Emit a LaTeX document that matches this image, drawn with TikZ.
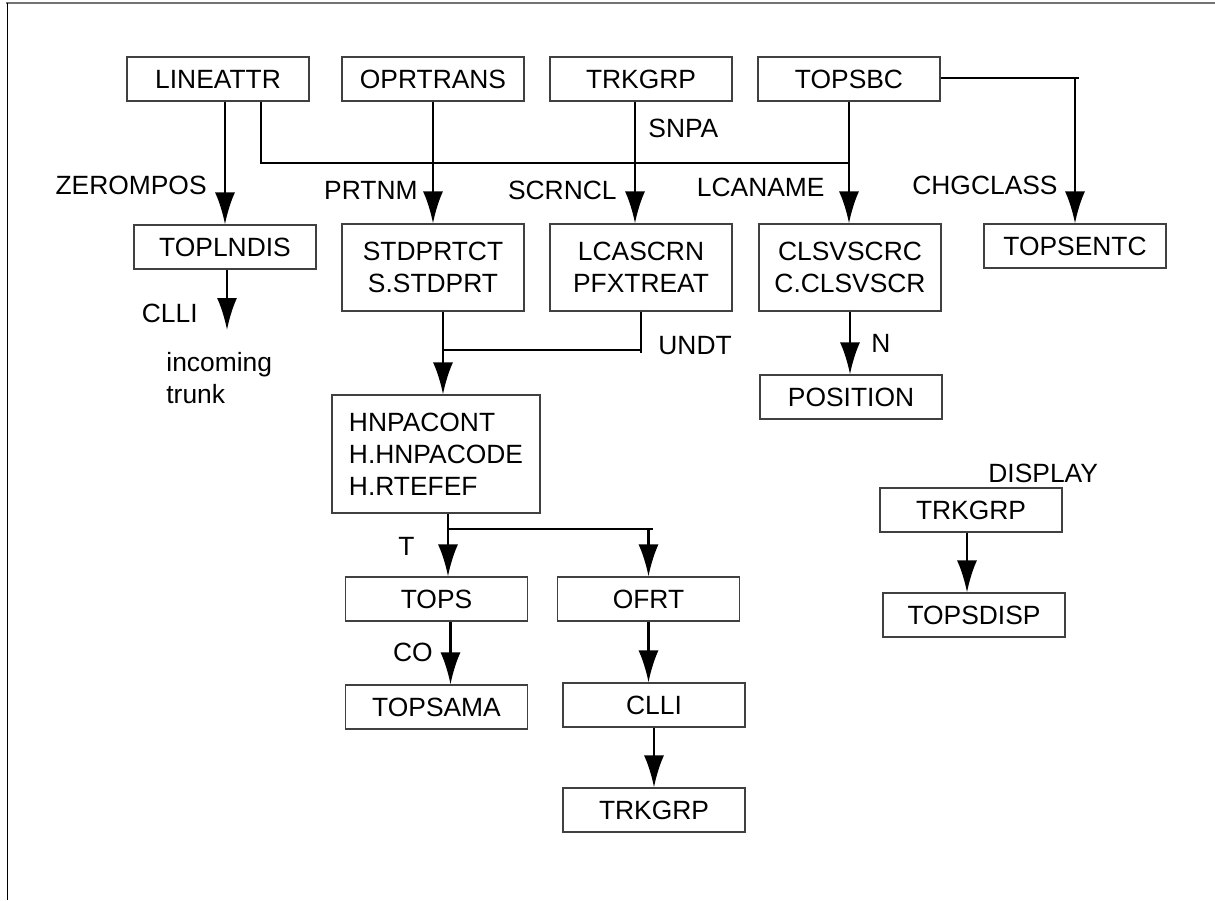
\documentclass[tikz,border=0pt]{standalone}
\usepackage{fontspec}
\setmainfont{Liberation Sans}
\usetikzlibrary{arrows.meta}

\begin{document}
\begin{tikzpicture}[
    x=0.5pt, y=-0.5pt,
    every node/.style={font=\fontsize{13.2}{16}\selectfont},
    box/.style={draw=black!75, line width=0.55pt, minimum width=91pt, minimum height=22pt, inner sep=0pt, align=center},
    tall/.style={box, minimum height=43.5pt},
    flow/.style={-{Latex[length=16pt,width=10pt]}, line width=1.3pt},
    link/.style={line width=1.3pt},
    lbl/.style={inner sep=0pt}
  ]
    \useasboundingbox (0,0) rectangle (1215,900);
    \draw[black!55, line width=0.9pt] (6,3) -- (1215,3);
    \draw[line width=0.5pt] (7,3) -- (7,900);

    % top row
    \node[box] (lineattr) at (218,79) {LINEATTR};
    \node[box] (oprtrans) at (433,79) {OPRTRANS};
    \node[box] (trkgrp) at (641,79) {TRKGRP};
    \node[box] (topsbc) at (849,79) {TOPSBC};

    % second row
    \node[box] (toplndis) at (225,247) {TOPLNDIS};
    \node[tall] (stdprtct) at (433,267.5) {STDPRTCT\\S.STDPRT};
    \node[tall] (lcascrn) at (641,267.5) {LCASCRN\\PFXTREAT};
    \node[tall] (clsvscrc) at (850,267.5) {CLSVSCRC\\C.CLSVSCR};
    \node[box] (topsentc) at (1075,246) {TOPSENTC};
    \node[box] (position) at (851,397) {POSITION};
    \node[anchor=north west, align=left, inner sep=0pt] (incoming) at (166,352) {incoming\\trunk};

    \node[box, minimum width=104pt, minimum height=59pt, align=left] (hnpacont) at (436,454)
      {HNPACONT\\H.HNPACODE\\H.RTEFEF};
    \node[box] (tops) at (436.5,599) {TOPS};
    \node[box] (ofrt) at (648.5,599) {OFRT};
    \node[box] (topsama) at (436.5,707) {TOPSAMA};
    \node[box] (clli) at (654,705) {CLLI};
    \node[box] (trkgrpo) at (654,810) {TRKGRP};

    \node[box] (trkgrpd) at (971,510) {TRKGRP};
    \node[box] (topsdisp) at (974,615) {TOPSDISP};

    % connectors
    \coordinate (busend) at (850,163);
    \coordinate (tee) at (1079,78);
    \coordinate (merge) at (443,350);
    \coordinate (split) at (653,529);
    \coordinate (trunkend) at (227,330);

    \draw[flow] (toplndis.north |- lineattr.south) -- (toplndis.north);
    \draw[link] ([xshift=21.5pt]lineattr.south) |- (busend);
    \draw[flow] (oprtrans.south) -- (oprtrans.south |- stdprtct.north);
    \draw[flow] ([xshift=-3pt]trkgrp.south) -- ([xshift=-3pt]trkgrp.south |- lcascrn.north);
    \draw[flow] (topsbc.south) -- (topsbc.south |- clsvscrc.north);
    \draw[link] (topsbc.east |- tee) -- (tee);
    \draw[flow] (topsentc.north |- tee) -- (topsentc.north);

    \draw[flow] (toplndis.south -| trunkend) -- (trunkend);
    \draw[flow] (merge |- stdprtct.south) -- (merge |- hnpacont.north);
    \draw[link] (lcascrn.south) -- (lcascrn.south |- 0,353);
    \draw[link] (lcascrn.south |- merge) -- (merge);
    \draw[flow] (clsvscrc.south) -- (clsvscrc.south |- position.north);

    \draw[flow] ([xshift=6pt]hnpacont.south) -- ([xshift=6pt]hnpacont.south |- tops.north);
    \draw[link] ([xshift=6pt]hnpacont.south |- split) -- (split);
    \draw[flow] (ofrt.north |- split) -- (ofrt.north);
    \draw[flow] ([xshift=7pt]tops.south) -- ([xshift=7pt]tops.south |- topsama.north);
    \draw[flow] (ofrt.south) -- (ofrt.south |- clli.north);
    \draw[flow] (clli.south) -- (trkgrpo.north);
    \draw[flow] ([xshift=-2pt]trkgrpd.south) -- ([xshift=-2pt]trkgrpd.south |- topsdisp.north);

    % labels
    \node[lbl, anchor=east] (zerompos) at (207,185) {ZEROMPOS};
    \node[lbl, anchor=east] (prtnm) at (418,190) {PRTNM};
    \node[lbl, anchor=west] (snpa) at (648,128) {SNPA};
    \node[lbl, anchor=east] (scrncl) at (617,190) {SCRNCL};
    \node[lbl, anchor=east] (lcaname) at (825,187) {LCANAME};
    \node[lbl, anchor=east] (chgclass) at (1058,185) {CHGCLASS};
    \node[lbl, anchor=east] (clllbl) at (198,313) {CLLI};
    \node[lbl, anchor=west] (undt) at (658,346) {UNDT};
    \node[lbl, anchor=west] (nlbl) at (871,343) {N};
    \node[lbl, anchor=west] (tlbl) at (398,546) {T};
    \node[lbl, anchor=east] (colbl) at (433,652) {CO};
    \node[lbl, anchor=west] (display) at (988,473) {DISPLAY};
  \end{tikzpicture}
\end{document}
